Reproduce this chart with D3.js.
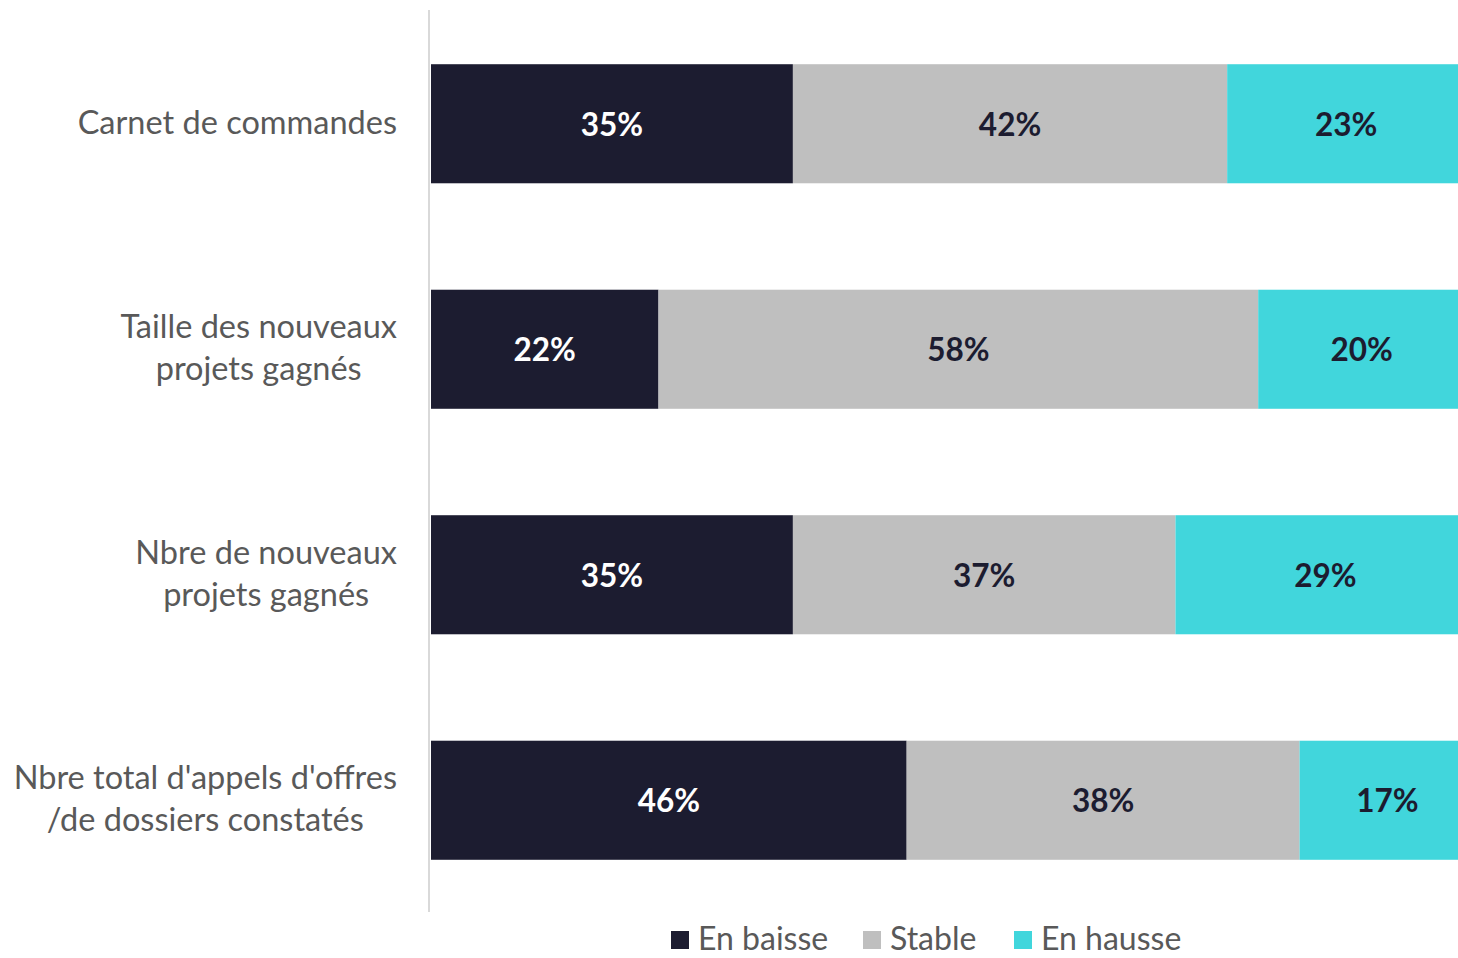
<!DOCTYPE html>
<html>
<head>
<meta charset="utf-8">
<script src="https://cdn.jsdelivr.net/npm/d3@7"></script>
<style>
  body { margin: 0; background: #fff; }
  svg { display: block; font-family: Lato, "Open Sans", sans-serif; }
</style>
</head>
<body>
<svg id="chart" width="1458" height="958"></svg>
<script>
// data
const categories = [
    ['Carnet de commandes'],
    ['Taille des nouveaux', 'projets gagnés'],
    ['Nbre de nouveaux', 'projets gagnés'],
    ["Nbre total d'appels d'offres", '/de dossiers constatés']
];
const seriesNames = ['En baisse', 'Stable', 'En hausse'];
const enBaisse = [35, 22, 35, 46];
const stable = [42, 58, 37, 38];
const enHausse = [23, 20, 29, 17];
const colors = ['#1c1c30', '#bfbfbf', '#41d6dc'];
const labelColors = ['#ffffff', '#1c1c30', '#1c1c30'];

const svg = d3.select('#chart');
const width = +svg.attr('width');
const height = +svg.attr('height');

const margin = { top: 11, bottom: 45, left: 431, right: 0 };

const rows = categories.map((c, i) => ({
    key: i,
    label: c,
    values: [enBaisse[i], stable[i], enHausse[i]]
}));

// the original chart is cropped on the right, 100% sits a little past the edge
const xScale = d3.scaleLinear()
    .domain([0, 100])
    .range([margin.left, margin.left + 1034]);

const yScale = d3.scaleBand()
    .domain(rows.map(d => d.key))
    .range([margin.top, height - margin.bottom])
    .paddingInner(0.472)
    .paddingOuter(0.236);

// category axis line
svg.append('line')
    .attr('x1', margin.left - 2).attr('x2', margin.left - 2)
    .attr('y1', 10).attr('y2', height - 46)
    .attr('stroke', '#d9d9d9')
    .attr('stroke-width', 2);

const rowG = svg.selectAll('g.row').data(rows)
    .enter().append('g')
    .attr('class', 'row')
    .attr('transform', d => `translate(0, ${yScale(d.key)})`);

rowG.each(function(d) {
    const g = d3.select(this);
    let start = 0;
    const segs = d.values.map((v, j) => {
        const s = { x0: start, x1: start + v, v: v, j: j };
        start += v;
        return s;
    });

    g.selectAll('rect').data(segs)
        .enter().append('rect')
        .attr('x', s => xScale(s.x0))
        .attr('width', s => xScale(s.x1) - xScale(s.x0))
        .attr('y', 0)
        .attr('height', yScale.bandwidth())
        .attr('fill', s => colors[s.j]);

    g.selectAll('text.val').data(segs)
        .enter().append('text')
        .attr('class', 'val')
        .attr('x', s => (xScale(s.x0) + xScale(s.x1)) / 2)
        .attr('y', yScale.bandwidth() / 2 + 12)
        .attr('text-anchor', 'middle')
        .attr('fill', s => labelColors[s.j])
        .style('font-size', '31.5px')
        .style('font-weight', 'bold')
        .text(s => s.v + '%');
});

// category labels: block right aligned, lines centred inside it
const labelRight = 397;
const lineGap = 42;
rowG.each(function(d) {
    const g = d3.select(this);
    const n = d.label.length;
    const mid = yScale.bandwidth() / 2;
    const t = g.selectAll('text.cat').data(d.label)
        .enter().append('text')
        .attr('class', 'cat')
        .attr('y', (l, k) => mid + 10 + (k - (n - 1) / 2) * lineGap)
        .attr('text-anchor', 'middle')
        .attr('fill', '#595959')
        .style('font-size', '32.5px')
        .text(l => l);
    let maxW = 0;
    t.each(function() { maxW = Math.max(maxW, this.getComputedTextLength()); });
    t.attr('x', labelRight - maxW / 2);
});

// legend
const legendX = [671, 863, 1014];
const legend = svg.append('g')
    .attr('transform', `translate(0, ${height - 8})`);

const legendItems = legend.selectAll('g').data(seriesNames)
    .enter().append('g')
    .attr('transform', (d, i) => `translate(${legendX[i]}, 0)`);

legendItems.append('rect')
    .attr('x', 0).attr('y', -19)
    .attr('width', 18).attr('height', 18)
    .attr('fill', (d, i) => colors[i]);

legendItems.append('text')
    .attr('x', 27)
    .attr('y', 0)
    .attr('fill', '#595959')
    .style('font-size', '32px')
    .text(d => d);
</script>
</body>
</html>
